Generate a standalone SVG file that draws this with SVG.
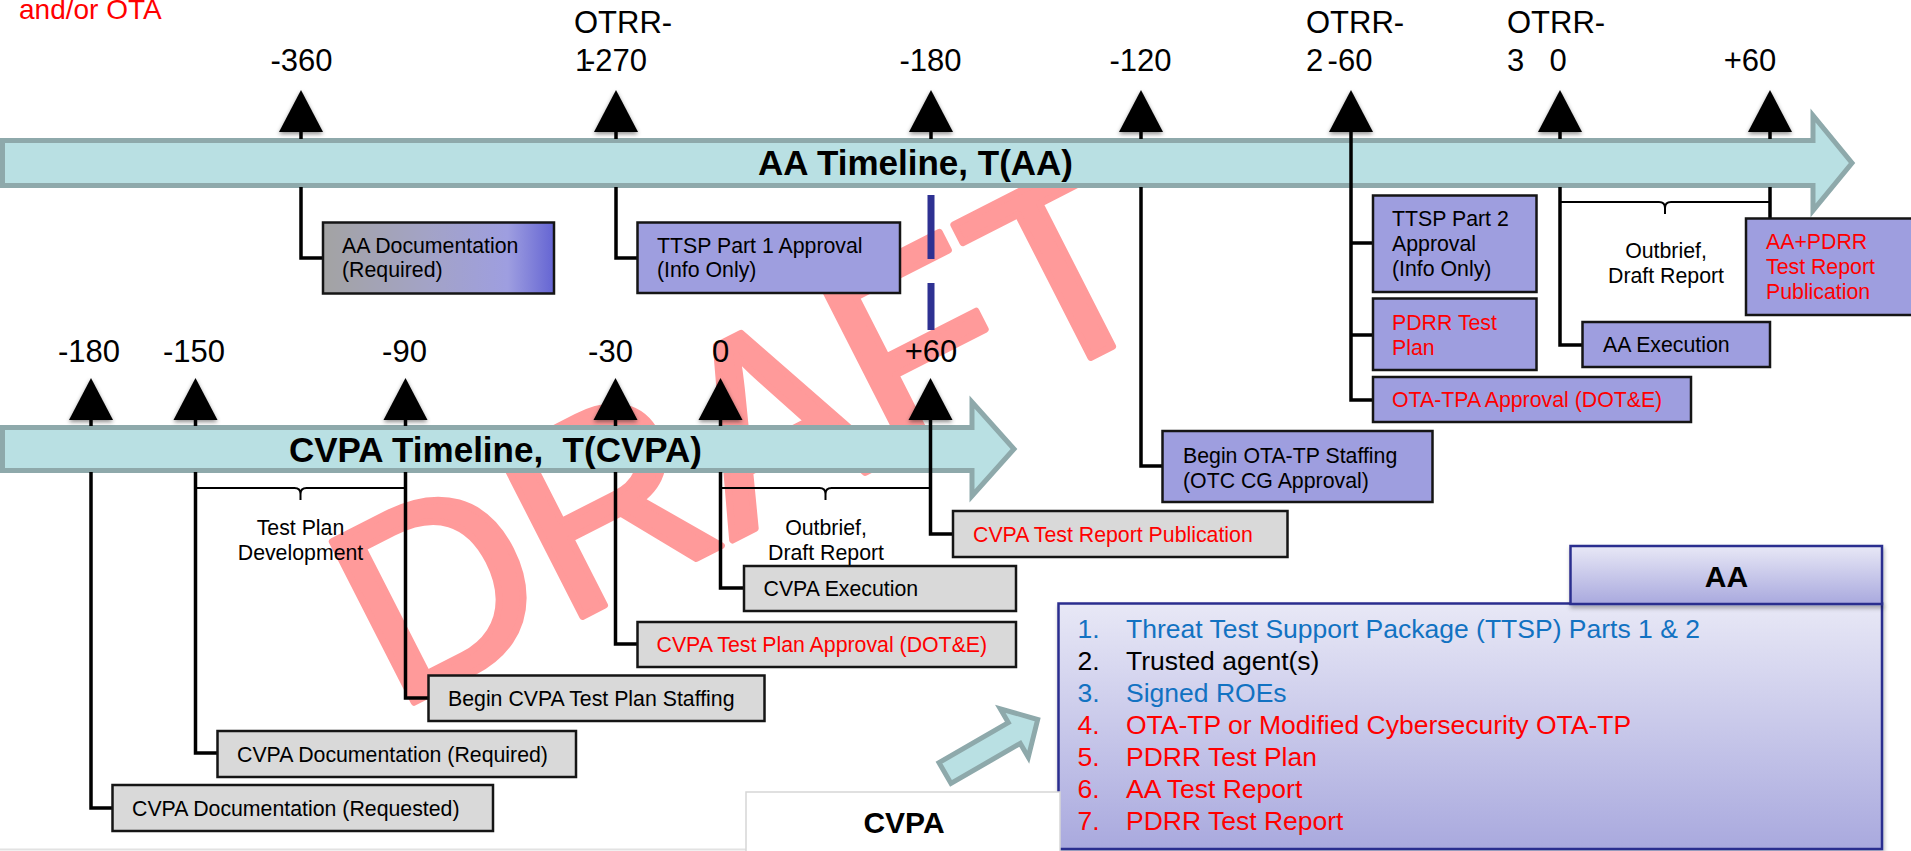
<svg xmlns="http://www.w3.org/2000/svg" width="1911" height="851" viewBox="0 0 1911 851">
  <defs>
    <style>
      text { font-family: "Liberation Sans", Arial, Helvetica, sans-serif; }
      .tick { font-size: 31px; fill: #000; }
      .lbl { font-size: 21.3px; fill: #000; }
      .red { fill: #ff0000; }
      .blue { fill: #1272c2; }
      .bar { fill: #b9e0e3; stroke: #8ea9ab; stroke-width: 5; }
      .bartext { font-size: 35px; font-weight: bold; fill: #000; }
      .aa { fill: #9e9edf; stroke: #151515; stroke-width: 2.5; }
      .cv { fill: #d9d9d9; stroke: #151515; stroke-width: 2.5; }
      .conn { fill: none; stroke: #000; stroke-width: 3.5; }
      .brace { fill: none; stroke: #000; stroke-width: 2; }
      .dash { fill: none; stroke: #2e3192; stroke-width: 7; }
      .tri { fill: #000; filter: url(#triShadow); }
      .item { font-size: 26.5px; }
      .head { font-size: 30px; font-weight: bold; fill: #000; }
      .panel { stroke: #2b2f8f; stroke-width: 2.5; filter: url(#panelShadow); }
      .mark { font-size: 262px; fill: #ff9a9a; stroke: #ff9a9a; stroke-width: 7; stroke-linejoin: round; }
    </style>
    <filter id="triShadow" x="-40%" y="-30%" width="180%" height="180%">
      <feDropShadow dx="0" dy="2" stdDeviation="2" flood-color="#000" flood-opacity="0.45"/>
    </filter>
    <filter id="panelShadow" x="-5%" y="-10%" width="110%" height="125%">
      <feDropShadow dx="1" dy="3" stdDeviation="2" flood-color="#000" flood-opacity="0.3"/>
    </filter>
    <linearGradient id="docGrad" x1="0" y1="0" x2="1" y2="0">
      <stop offset="0" stop-color="#a3a3a3"/>
      <stop offset="0.45" stop-color="#a3a3c6"/>
      <stop offset="0.8" stop-color="#9e9ee0"/>
      <stop offset="1" stop-color="#6565d3"/>
    </linearGradient>
    <linearGradient id="panelGrad" x1="0" y1="0" x2="0" y2="1">
      <stop offset="0" stop-color="#e8e8f6"/>
      <stop offset="1" stop-color="#a9a9de"/>
    </linearGradient>
    <polygon id="tri" points="0,0 22,42 -22,42"/>
  </defs>

  <rect x="0" y="0" width="1911" height="851" fill="#fff"/>

  <!-- watermark -->
  <text class="mark" transform="translate(395,712) rotate(-27)">DRAFT</text>

  <!-- header note -->
  <text x="19" y="19" font-size="28" fill="#ff0000">and/or OTA</text>

  <!-- timeline bars -->
  <g id="aa-timeline">
    <path class="bar" d="M2.5,140.5 H1813 V115.5 L1852,163 L1813,210.5 V185.5 H2.5 Z"/>
    <text class="bartext" x="758" y="175">AA Timeline, T(AA)</text>
  </g>
  <g id="cvpa-timeline">
    <path class="bar" d="M2.5,427.5 H972 V402 L1014,449 L972,496 V470.5 H2.5 Z"/>
    <text class="bartext" x="289" y="461.5" xml:space="preserve">CVPA Timeline,  T(CVPA)</text>
  </g>

  <!-- connectors -->
  <g id="connectors">
    <path class="conn" d="M301,131 V139 M301,187 V258 H323"/>
    <path class="conn" d="M616,131 V139 M616,187 V258 H638"/>
    <path class="conn" d="M931,131 V139"/>
    <path class="conn" d="M1141,131 V139 M1141,187 V466 H1163"/>
    <path class="conn" d="M1351,131 V400 H1374 M1351,243 H1374 M1351,335 H1374"/>
    <path class="conn" d="M1560,131 V139 M1560,187 V345 H1583"/>
    <path class="conn" d="M1770,131 V139 M1770,187 V219"/>
    <path class="brace" d="M1560,202 H1659 Q1665,202 1665,208 V214 M1665,208 Q1665,202 1671,202 H1770"/>
    <path class="dash" d="M931,195 V259 M931,283 V330"/>

    <path class="conn" d="M91,419 V426 M91,472 V808 H113"/>
    <path class="conn" d="M195.5,419 V426 M195.5,472 V753 H218"/>
    <path class="conn" d="M405.5,419 V426 M405.5,472 V698 H429"/>
    <path class="conn" d="M615.5,419 V426 M615.5,472 V644 H638"/>
    <path class="conn" d="M720.5,419 V426 M720.5,472 V588 H744"/>
    <path class="conn" d="M930.5,419 V534 H953"/>
    <path class="brace" d="M195.5,488 H294.5 Q300.5,488 300.5,494 V500 M300.5,494 Q300.5,488 306.5,488 H405.5"/>
    <path class="brace" d="M720.5,488 H819.5 Q825.5,488 825.5,494 V500 M825.5,494 Q825.5,488 831.5,488 H930.5"/>
  </g>

  <!-- milestone markers and day labels -->
  <g id="aa-ticks">
    <use href="#tri" x="301" y="90" class="tri"/>
    <use href="#tri" x="616" y="90" class="tri"/>
    <use href="#tri" x="931" y="90" class="tri"/>
    <use href="#tri" x="1141" y="90" class="tri"/>
    <use href="#tri" x="1351" y="90" class="tri"/>
    <use href="#tri" x="1560" y="90" class="tri"/>
    <use href="#tri" x="1770" y="90" class="tri"/>
    <g class="tick">
      <text x="301.5" y="71" text-anchor="middle">-360</text>
      <text x="574" y="33">OTRR-</text>
      <text x="575" y="71">1</text>
      <text x="616" y="71" text-anchor="middle">-270</text>
      <text x="930.5" y="71" text-anchor="middle">-180</text>
      <text x="1140.5" y="71" text-anchor="middle">-120</text>
      <text x="1306" y="33">OTRR-</text>
      <text x="1306" y="71">2</text>
      <text x="1350" y="71" text-anchor="middle">-60</text>
      <text x="1507" y="33">OTRR-</text>
      <text x="1507" y="71">3</text>
      <text x="1558" y="71" text-anchor="middle">0</text>
      <text x="1750" y="71" text-anchor="middle">+60</text>
    </g>
  </g>
  <g id="cvpa-ticks">
    <use href="#tri" x="91" y="378" class="tri"/>
    <use href="#tri" x="195.5" y="378" class="tri"/>
    <use href="#tri" x="405.5" y="378" class="tri"/>
    <use href="#tri" x="615.5" y="378" class="tri"/>
    <use href="#tri" x="720.5" y="378" class="tri"/>
    <use href="#tri" x="930.5" y="378" class="tri"/>
    <g class="tick">
      <text x="89" y="361.5" text-anchor="middle">-180</text>
      <text x="194" y="361.5" text-anchor="middle">-150</text>
      <text x="404.5" y="361.5" text-anchor="middle">-90</text>
      <text x="610.5" y="361.5" text-anchor="middle">-30</text>
      <text x="720.5" y="361.5" text-anchor="middle">0</text>
      <text x="931" y="361.5" text-anchor="middle">+60</text>
    </g>
  </g>

  <!-- span labels -->
  <g id="span-aa-outbrief">
    <text class="lbl" text-anchor="middle"><tspan x="1666" y="258">Outbrief,</tspan><tspan x="1666" y="283">Draft Report</tspan></text>
  </g>
  <g id="span-test-plan-dev">
    <text class="lbl" text-anchor="middle"><tspan x="300.5" y="535">Test Plan</tspan><tspan x="300.5" y="560">Development</tspan></text>
  </g>
  <g id="span-cvpa-outbrief">
    <text class="lbl" text-anchor="middle"><tspan x="826" y="535">Outbrief,</tspan><tspan x="826" y="560">Draft Report</tspan></text>
  </g>

  <!-- AA timeline events -->
  <g id="aa-documentation">
    <rect x="323" y="222.5" width="231" height="71" fill="url(#docGrad)" stroke="#151515" stroke-width="2.5"/>
    <text class="lbl"><tspan x="342" y="253">AA Documentation</tspan><tspan x="342" y="277">(Required)</tspan></text>
  </g>
  <g id="ttsp-part1">
    <rect class="aa" x="637.5" y="222.5" width="262.5" height="70.5"/>
    <text class="lbl"><tspan x="657" y="253">TTSP Part 1 Approval</tspan><tspan x="657" y="277">(Info Only)</tspan></text>
  </g>
  <g id="begin-ota-tp">
    <rect class="aa" x="1162.5" y="431" width="270" height="71"/>
    <text class="lbl"><tspan x="1183" y="462.5">Begin OTA-TP Staffing</tspan><tspan x="1183" y="488">(OTC CG Approval)</tspan></text>
  </g>
  <g id="ttsp-part2">
    <rect class="aa" x="1373" y="195.5" width="163.5" height="96.5"/>
    <text class="lbl"><tspan x="1392" y="226">TTSP Part 2</tspan><tspan x="1392" y="251">Approval</tspan><tspan x="1392" y="276">(Info Only)</tspan></text>
  </g>
  <g id="pdrr-test-plan">
    <rect class="aa" x="1373" y="298.5" width="163.5" height="71.5"/>
    <text class="lbl red"><tspan x="1392" y="330">PDRR Test</tspan><tspan x="1392" y="355">Plan</tspan></text>
  </g>
  <g id="ota-tpa-approval">
    <rect class="aa" x="1373" y="377" width="318" height="45"/>
    <text class="lbl red" x="1392" y="407">OTA-TPA Approval (DOT&amp;E)</text>
  </g>
  <g id="aa-execution">
    <rect class="aa" x="1582.5" y="322" width="187.5" height="45"/>
    <text class="lbl" x="1603" y="352">AA Execution</text>
  </g>
  <g id="aa-pdrr-report">
    <rect class="aa" x="1746" y="218.5" width="200" height="96.5"/>
    <text class="lbl red"><tspan x="1766" y="249">AA+PDRR</tspan><tspan x="1766" y="274">Test Report</tspan><tspan x="1766" y="299">Publication</tspan></text>
  </g>

  <!-- CVPA timeline events -->
  <g id="cvpa-report">
    <rect class="cv" x="953" y="511" width="334.5" height="46"/>
    <text class="lbl red" x="973" y="542">CVPA Test Report Publication</text>
  </g>
  <g id="cvpa-execution">
    <rect class="cv" x="744" y="566" width="272" height="45"/>
    <text class="lbl" x="763.5" y="596">CVPA Execution</text>
  </g>
  <g id="cvpa-plan-approval">
    <rect class="cv" x="637.5" y="622" width="378.5" height="45"/>
    <text class="lbl red" x="656.5" y="652">CVPA Test Plan Approval (DOT&amp;E)</text>
  </g>
  <g id="cvpa-plan-staffing">
    <rect class="cv" x="428.5" y="675.5" width="336" height="45.5"/>
    <text class="lbl" x="448" y="706">Begin CVPA Test Plan Staffing</text>
  </g>
  <g id="cvpa-doc-required">
    <rect class="cv" x="217.5" y="731" width="358.5" height="46"/>
    <text class="lbl" x="237" y="762">CVPA Documentation (Required)</text>
  </g>
  <g id="cvpa-doc-requested">
    <rect class="cv" x="112.5" y="785" width="380.5" height="46"/>
    <text class="lbl" x="132" y="816">CVPA Documentation (Requested)</text>
  </g>

  <!-- page edge -->
  <path d="M0,849.5 H746" stroke="#e2e2e2" stroke-width="2" fill="none"/>

  <!-- AA deliverables panel -->
  <g id="aa-list">
    <rect class="panel" x="1058.5" y="603.5" width="823.5" height="245.5" fill="url(#panelGrad)"/>
    <g class="item">
      <text class="blue" x="1077.5" y="638">1.</text><text class="blue" x="1126" y="638">Threat Test Support Package (TTSP) Parts 1 &amp; 2</text>
      <text x="1077.5" y="670" fill="#000">2.</text><text x="1126" y="670" fill="#000">Trusted agent(s)</text>
      <text class="blue" x="1077.5" y="702">3.</text><text class="blue" x="1126" y="702">Signed ROEs</text>
      <text class="red" x="1077.5" y="734">4.</text><text class="red" x="1126" y="734">OTA-TP or Modified Cybersecurity OTA-TP</text>
      <text class="red" x="1077.5" y="766">5.</text><text class="red" x="1126" y="766">PDRR Test Plan</text>
      <text class="red" x="1077.5" y="798">6.</text><text class="red" x="1126" y="798">AA Test Report</text>
      <text class="red" x="1077.5" y="830">7.</text><text class="red" x="1126" y="830">PDRR Test Report</text>
    </g>
  </g>
  <g id="aa-header">
    <rect class="panel" x="1570.5" y="546" width="311.5" height="58" fill="url(#panelGrad)"/>
    <text class="head" x="1726.5" y="587" text-anchor="middle">AA</text>
  </g>

  <!-- CVPA tab and pointer arrow -->
  <g id="cvpa-tab">
    <rect x="746" y="792" width="314" height="70" fill="#fff" stroke="#d6d6d6" stroke-width="1.5"/>
    <text class="head" x="904" y="833" text-anchor="middle">CVPA</text>
  </g>
  <g id="pointer-arrow">
    <path class="bar" stroke-width="4.5" transform="translate(945,773) rotate(-30)" d="M0,-12 H80 V-28 L107,0 L80,28 V12 H0 Z"/>
  </g>
</svg>
